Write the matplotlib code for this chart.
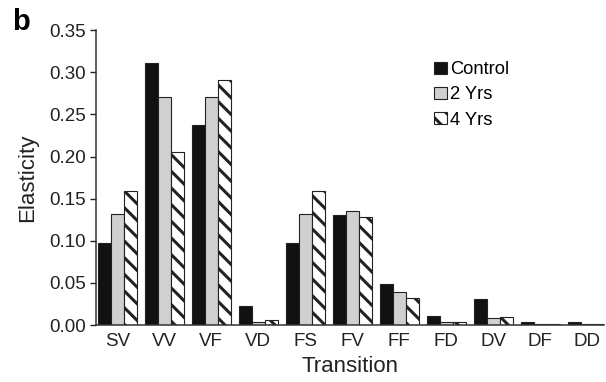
import numpy as np
import matplotlib.pyplot as plt

transitions = ["SV", "VV", "VF", "VD", "FS", "FV", "FF", "FD", "DV", "DF", "DD"]
control = [0.098, 0.311, 0.238, 0.023, 0.098, 0.131, 0.049, 0.011, 0.031, 0.004, 0.004]
yrs2 = [0.132, 0.271, 0.271, 0.004, 0.132, 0.135, 0.039, 0.004, 0.008, 0.001, 0.001]
yrs4 = [0.159, 0.206, 0.291, 0.006, 0.159, 0.128, 0.032, 0.004, 0.010, 0.001, 0.001]
yticks = [0.00, 0.05, 0.10, 0.15, 0.20, 0.25, 0.30, 0.35]

plt.rcParams['font.family'] = ['Liberation Sans', 'DejaVu Sans']
plt.rcParams['hatch.linewidth'] = 2.2
plt.rcParams['hatch.color'] = '#111111'

fig = plt.figure(figsize=(6.06, 3.82), dpi=100)
ax = fig.add_axes([0.158, 0.149, 0.839, 0.772])

x = np.arange(len(transitions))
w = 0.28
edge = '#222222'
ax.bar(x - w, control, w, color='#111111', edgecolor=edge, linewidth=0.8, label='Control')
ax.bar(x, yrs2, w, color='#d0d0d0', edgecolor=edge, linewidth=0.8, label='2 Yrs')
ax.bar(x + w, yrs4, w, color='white', edgecolor=edge, linewidth=0.8, hatch='\\\\', label='4 Yrs')

ax.set_xlim(-0.46, 10.36)
ax.set_ylim(0, 0.35)
ax.set_yticks(yticks)
ax.set_yticklabels([f"{v:.2f}" for v in yticks])
ax.set_xticks(x)
ax.set_xticklabels(transitions)
ax.tick_params(axis='x', length=0, pad=6, labelsize=13.5, colors='#222222')
ax.tick_params(axis='y', length=4, width=1, pad=3, labelsize=13.5, colors='#222222')

for s in ['top', 'right']:
    ax.spines[s].set_visible(False)
for s in ['left', 'bottom']:
    ax.spines[s].set_linewidth(1.1)
    ax.spines[s].set_color('#333333')

ax.set_ylabel("Elasticity", fontsize=16, color='#222222', labelpad=8)
ax.set_xlabel("Transition", fontsize=16, color='#222222', labelpad=4)

ax.legend(loc='upper left', bbox_to_anchor=(0.665, 0.895), frameon=False,
          fontsize=13.2, handlelength=0.7, handleheight=0.66, handletextpad=0.2,
          labelspacing=0.45, borderpad=0, borderaxespad=0)

fig.text(0.02, 0.978, "b", fontsize=21, fontweight='bold', va='top', ha='left')

fig.savefig("out.png", dpi=100)
